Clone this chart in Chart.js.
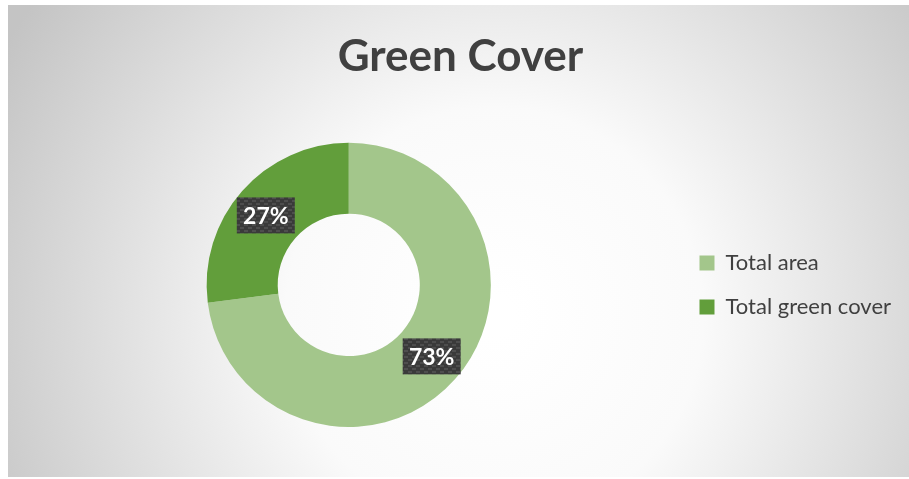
<!DOCTYPE html>
<html>
<head>
<meta charset="utf-8">
<script src="https://cdn.jsdelivr.net/npm/chart.js@4/dist/chart.umd.min.js"></script>
<style>
  html, body { margin: 0; padding: 0; background: #fff; }
  #wrap { position: absolute; left: 8px; top: 5px; width: 901px; height: 472px; }
</style>
</head>
<body>
<div id="wrap"><canvas id="greenChart"></canvas></div>
<script>
// chart values
var categories = ['Total area', 'Total green cover'];
var shares = [73, 27];
var sliceColors = ['#A3C68B', '#629E3B'];
var chartTitle = 'Green Cover';

// radial grey background like the office chart
var backgroundPlugin = {
    id: 'bgFill',
    beforeDraw: function(chart) {
        var ctx = chart.ctx;
        var w = chart.width, h = chart.height;
        var g = ctx.createRadialGradient(w * 0.54, h * 0.66, 20, w * 0.54, h * 0.66, w * 0.62);
        g.addColorStop(0, '#ffffff');
        g.addColorStop(0.35, '#fafafa');
        g.addColorStop(1, '#c4c4c4');
        ctx.save();
        ctx.fillStyle = g;
        ctx.fillRect(0, 0, w, h);
        ctx.restore();
    }
};

// dark patterned boxes with the percentages
function makePattern(ctx) {
    var tile = document.createElement('canvas');
    tile.width = 8; tile.height = 6;
    var t = tile.getContext('2d');
    t.fillStyle = '#3a3a3a';
    t.fillRect(0, 0, 8, 6);
    t.fillStyle = '#4e4e4e';
    t.fillRect(0, 0, 4, 2);
    t.fillRect(4, 3, 4, 2);
    return ctx.createPattern(tile, 'repeat');
}

var labelPlugin = {
    id: 'pctLabels',
    afterDatasetsDraw: function(chart) {
        var ctx = chart.ctx;
        var meta = chart.getDatasetMeta(0);
        var pattern = makePattern(ctx);
        var cx = (chart.chartArea.left + chart.chartArea.right) / 2;
        ctx.save();
        ctx.font = 'bold 23px Lato';
        ctx.textAlign = 'center';
        ctx.textBaseline = 'middle';
        meta.data.forEach(function(arc, i) {
            var p = arc.tooltipPosition();
            var x = p.x + (p.x < cx ? -3 : 3);
            var txt = shares[i] + '%';
            var bw = 58, bh = 36;
            ctx.fillStyle = pattern;
            ctx.fillRect(x - bw / 2, p.y - bh / 2 + 1, bw, bh);
            ctx.fillStyle = '#ffffff';
            ctx.fillText(txt, x, p.y + 2);
        });
        ctx.restore();
    }
};

var ctx = document.getElementById('greenChart').getContext('2d');
var myChart = new Chart(ctx, {
    type: 'doughnut',
    data: {
        labels: categories,
        datasets: [{
            data: shares,
            backgroundColor: sliceColors,
            borderWidth: 0,
            hoverOffset: 0
        }]
    },
    options: {
        responsive: true,
        maintainAspectRatio: false,
        animation: false,
        cutout: '50%',
        layout: { padding: { left: 12, right: 8, top: 0, bottom: 50 } },
        plugins: {
            title: {
                display: true,
                text: chartTitle,
                color: '#404040',
                font: { family: 'Lato', size: 44, weight: 'bold' },
                padding: { top: 25, bottom: 60 }
            },
            legend: {
                position: 'right',
                fullSize: false,
                labels: {
                    color: '#404040',
                    font: { family: 'Lato', size: 22 },
                    boxWidth: 15,
                    boxHeight: 15,
                    padding: 22
                }
            },
            tooltip: { enabled: false }
        }
    },
    plugins: [backgroundPlugin, labelPlugin]
});
</script>
</body>
</html>
